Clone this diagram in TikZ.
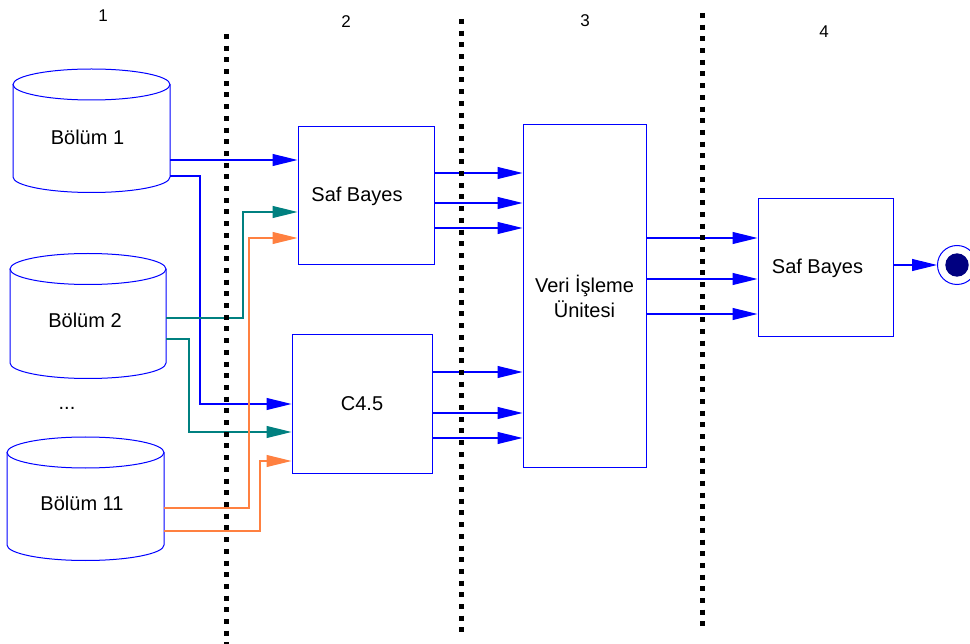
\documentclass[tikz,border=0pt]{standalone}
\usepackage{fontspec}
\setmainfont{Liberation Sans}
\usetikzlibrary{arrows.meta}
\definecolor{lnblue}{RGB}{0,0,255}
\definecolor{lnteal}{RGB}{0,128,128}
\definecolor{lnorange}{RGB}{255,128,64}
\definecolor{endnavy}{RGB}{0,0,128}
\tikzset{
  box/.style={draw=lnblue,line width=1pt,fill=white,inner sep=0pt},
  cyl/.style={draw=lnblue,line width=1pt},
  link/.style={draw=#1,line width=1.1pt,-{Triangle[length=25pt,width=12pt,fill=#1]}},
  divider/.style={line width=5pt,dash pattern=on 5pt off 6.7pt},
  colnum/.style={font=\fontsize{17}{20}\selectfont}
}

\begin{document}
\begin{tikzpicture}[x=1pt,y=-1pt,font=\fontsize{20}{25}\selectfont]
\useasboundingbox (0,0) rectangle (970,644);
\foreach \l/\r/\rx/\t/\b in {13/170/78.5/84.5/177, 10/166/78/269/363, 7/164/78.5/452.5/545} {
  \draw[cyl] (\l,\t) -- (\l,\b) arc[start angle=180,end angle=360,x radius=\rx pt,y radius=15.5pt] -- (\r,\t);
  \draw[cyl] ({(\l+\r)/2},\t) ellipse[x radius=\rx pt,y radius=15.5pt];
}
\node (b1) at (87.5,137) {Bölüm 1};
\node (b2) at (85,320) {Bölüm 2};
\node (b3) at (82,503) {Bölüm 11};
\node (dots) at (67,408) {...};
\node[colnum] (n1) at (103,16) {1};
\node[colnum] (n2) at (346,22) {2};
\node[colnum] (n3) at (585,21) {3};
\node[colnum] (n4) at (824,32) {4};
\node[box,minimum width=136,minimum height=138,label={[xshift=-9pt]center:Saf Bayes}] (sb1) at (366,196) {};
\node[box,minimum width=140,minimum height=138] (c45) at (362,404) {C4.5};
\node[box,minimum width=123,minimum height=342,align=center] (veri) at (584.5,296) {Veri İşleme\\Ünitesi};
\node[box,minimum width=135,minimum height=138,label={[xshift=-8pt]center:Saf Bayes}] (sb2) at (825.5,268) {};
\node[circle,draw=lnblue,line width=1pt,minimum size=39,inner sep=0pt] (fin) at (957,265) {};
\node[circle,fill=endnavy,minimum size=23.4,inner sep=0pt] (findot) at (fin) {};
\coordinate (o1a) at (170,160); \coordinate (o1b) at (170,176);
\coordinate (o2a) at (166,318); \coordinate (o2b) at (166,339);
\coordinate (o3a) at (164,508); \coordinate (o3b) at (164,531);
\draw[link=lnblue] (o1a) -- (sb1.west |- o1a);
\draw[link=lnblue] (o1b) -- ++(30,0) |- (c45.west);
\draw[link=lnteal] (o2a) -- ++(77,0) |- ([yshift=-16pt]sb1.west);
\draw[link=lnteal] (o2b) -- ++(23,0) |- ([yshift=-28pt]c45.west);
\draw[link=lnorange] (o3a) -- ++(85,0) |- ([yshift=-42pt]sb1.west);
\draw[link=lnorange] (o3b) -- ++(96,0) |- ([yshift=-57pt]c45.west);
\foreach \d in {23,-7,-32} {
  \path ([yshift=\d pt]sb1.east) coordinate (s);
  \draw[link=lnblue] (s) -- (s -| veri.west);
}
\foreach \d in {32,-9,-34} {
  \path ([yshift=\d pt]c45.east) coordinate (s);
  \draw[link=lnblue] (s) -- (s -| veri.west);
}
\foreach \d in {58,17,-18} {
  \path ([yshift=\d pt]veri.east) coordinate (s);
  \draw[link=lnblue] (s) -- (s -| sb2.west);
}
\draw[link=lnblue] (sb2.east |- fin) -- (fin);
\draw[divider] (226,34) -- (226,644);
\draw[divider] (461,19) -- (461,634);
\draw[divider] (702,13) -- (702,628);
\end{tikzpicture}
\end{document}
